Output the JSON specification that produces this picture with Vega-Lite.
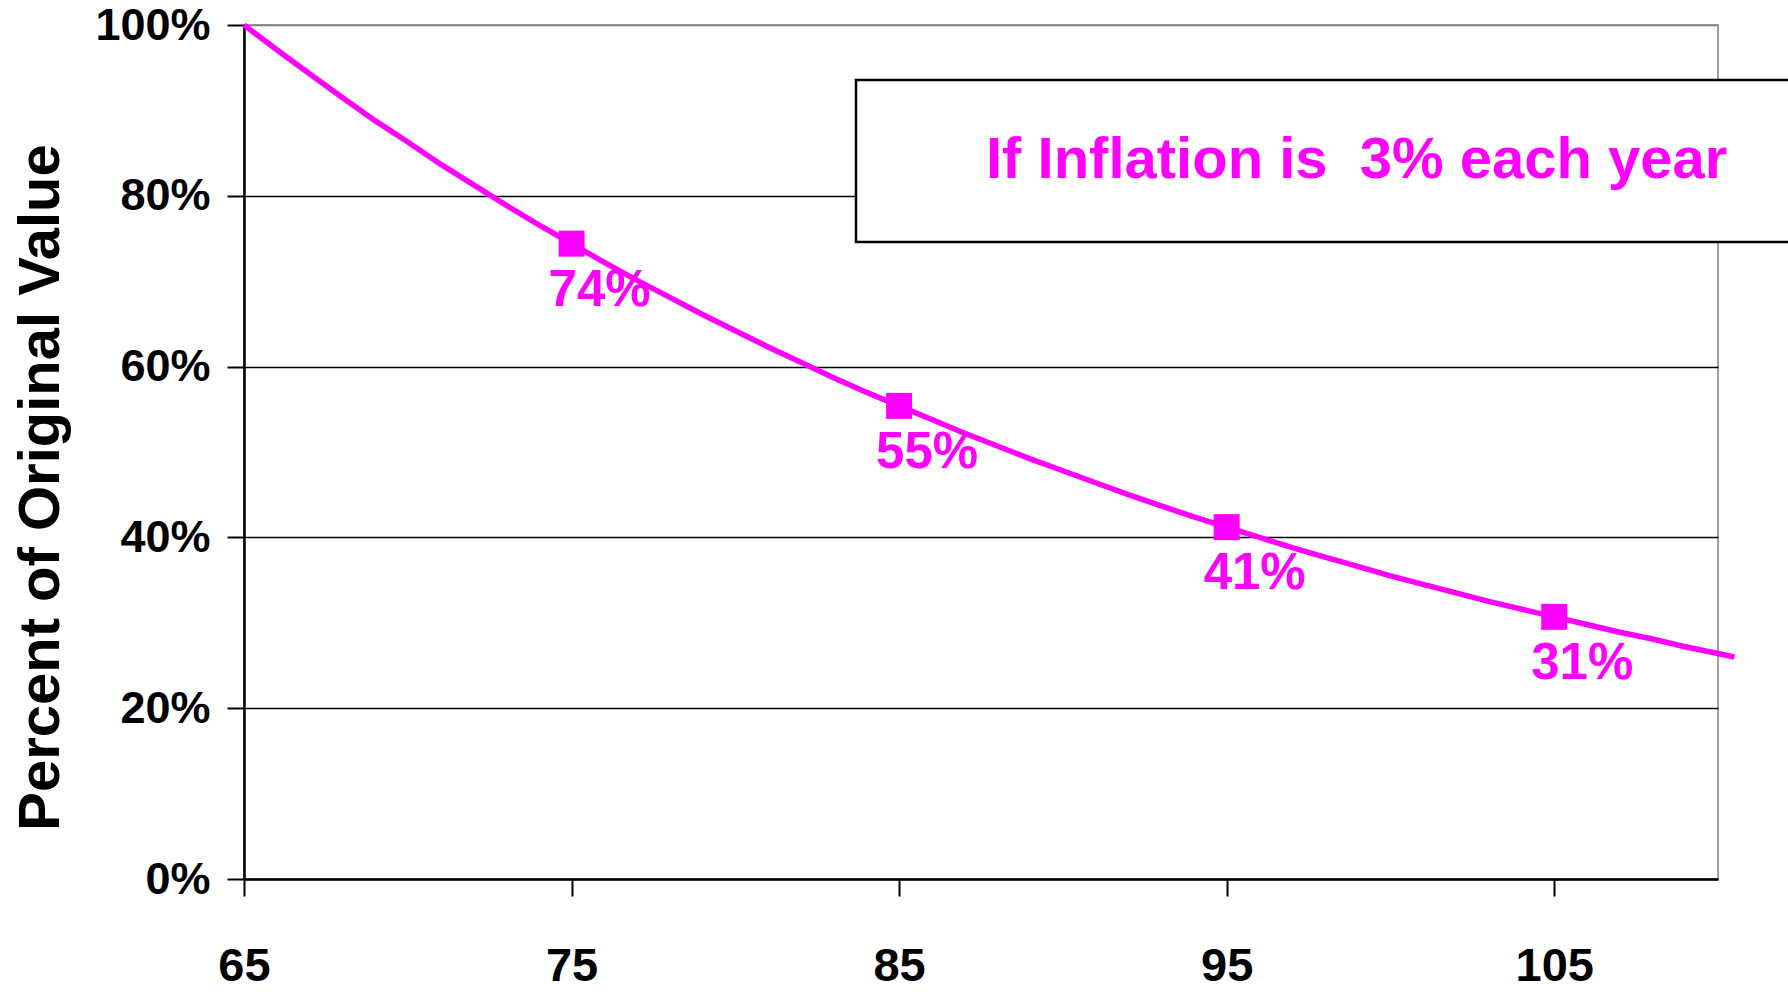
{
  "$schema": "https://vega.github.io/schema/vega-lite/v6.json",
  "width": 1474,
  "height": 854,
  "autosize": {"type": "none"},
  "padding": {"left": 244, "top": 25, "right": 70, "bottom": 113},
  "background": "white",
  "config": {
    "font": "Liberation Sans",
    "view": {"stroke": "#808080", "strokeWidth": 1.5},
    "legend": {"strokeWidth": 2.5}
  },
  "datasets": {
    "curve": [
      {"age": 65, "value": 1.0},
      {"age": 66, "value": 0.971},
      {"age": 67, "value": 0.943},
      {"age": 68, "value": 0.915},
      {"age": 69, "value": 0.888},
      {"age": 70, "value": 0.863},
      {"age": 71, "value": 0.837},
      {"age": 72, "value": 0.813},
      {"age": 73, "value": 0.789},
      {"age": 74, "value": 0.766},
      {"age": 75, "value": 0.744},
      {"age": 76, "value": 0.722},
      {"age": 77, "value": 0.701},
      {"age": 78, "value": 0.681},
      {"age": 79, "value": 0.661},
      {"age": 80, "value": 0.642},
      {"age": 81, "value": 0.623},
      {"age": 82, "value": 0.605},
      {"age": 83, "value": 0.587},
      {"age": 84, "value": 0.57},
      {"age": 85, "value": 0.554},
      {"age": 86, "value": 0.538},
      {"age": 87, "value": 0.522},
      {"age": 88, "value": 0.507},
      {"age": 89, "value": 0.492},
      {"age": 90, "value": 0.478},
      {"age": 91, "value": 0.464},
      {"age": 92, "value": 0.45},
      {"age": 93, "value": 0.437},
      {"age": 94, "value": 0.424},
      {"age": 95, "value": 0.412},
      {"age": 96, "value": 0.4},
      {"age": 97, "value": 0.388},
      {"age": 98, "value": 0.377},
      {"age": 99, "value": 0.366},
      {"age": 100, "value": 0.355},
      {"age": 101, "value": 0.345},
      {"age": 102, "value": 0.335},
      {"age": 103, "value": 0.325},
      {"age": 104, "value": 0.316},
      {"age": 105, "value": 0.307},
      {"age": 106, "value": 0.298},
      {"age": 107, "value": 0.289},
      {"age": 108, "value": 0.281},
      {"age": 109, "value": 0.272},
      {"age": 110, "value": 0.264},
      {"age": 110.5, "value": 0.26}
    ],
    "marks": [
      {"age": 75, "value": 0.744, "label": "74%"},
      {"age": 85, "value": 0.554, "label": "55%"},
      {"age": 95, "value": 0.412, "label": "41%"},
      {"age": 105, "value": 0.307, "label": "31%"}
    ]
  },
  "encoding": {
    "x": {
      "field": "age",
      "type": "quantitative",
      "scale": {"domain": [65, 110], "nice": false, "zero": false},
      "axis": {
        "title": null,
        "values": [65, 75, 85, 95, 105],
        "grid": false,
        "domainColor": "#000000",
        "domainWidth": 2.5,
        "tickColor": "#000000",
        "tickWidth": 2,
        "tickSize": 17,
        "labelPadding": 47,
        "labelFont": "Liberation Sans",
        "labelFontSize": 47,
        "labelFontWeight": "bold",
        "labelColor": "#000000",
        "labelBaseline": "top",
        "labelFlush": false,
        "labelOverlap": false
      }
    },
    "y": {
      "field": "value",
      "type": "quantitative",
      "scale": {"domain": [0, 1], "nice": false},
      "axis": {
        "title": "Percent of Original Value",
        "titleFont": "Liberation Sans",
        "titleFontSize": 58,
        "titleFontWeight": "bold",
        "titleColor": "#000000",
        "titleAngle": 270,
        "titleAlign": "center",
        "titleBaseline": "alphabetic",
        "titleX": -186,
        "titleY": 462,
        "values": [0, 0.2, 0.4, 0.6, 0.8, 1],
        "format": ".0%",
        "grid": true,
        "gridColor": {"condition": {"test": "datum.value === 1", "value": "#808080"}, "value": "#000000"},
        "gridWidth": 1.5,
        "domainColor": "#000000",
        "domainWidth": 2.5,
        "tickColor": "#000000",
        "tickWidth": 2,
        "tickSize": 17,
        "labelPadding": 17,
        "labelFont": "Liberation Sans",
        "labelFontSize": 45,
        "labelFontWeight": "bold",
        "labelColor": "#000000",
        "labelFlush": false,
        "labelOverlap": false
      }
    }
  },
  "layer": [
    {
      "data": {"name": "curve"},
      "mark": {"type": "line", "strokeWidth": 5.5},
      "encoding": {
        "color": {
          "datum": "If Inflation is \u00a03% each year",
          "type": "nominal",
          "scale": {"range": ["#ff00ff"]},
          "legend": {
            "orient": "none",
            "legendX": 612,
            "legendY": 55,
            "title": ".",
            "titleOrient": "right",
            "titleColor": "#ffffff",
            "titleFontSize": 10,
            "titlePadding": 14,
            "strokeColor": "#000000",
            "fillColor": "#ffffff",
            "padding": 52,
            "labelFont": "Liberation Sans",
            "labelFontSize": 58,
            "labelFontWeight": "bold",
            "labelColor": "#ff00ff",
            "labelLimit": 3000,
            "labelOffset": 20,
            "symbolSize": 0,
            "symbolOpacity": 0,
            "symbolStrokeWidth": 0
          }
        }
      }
    },
    {
      "data": {"name": "marks"},
      "mark": {"type": "point", "shape": "square", "filled": true, "size": 676, "opacity": 1},
      "encoding": {
        "color": {"datum": "If Inflation is \u00a03% each year", "type": "nominal"}
      }
    },
    {
      "data": {"name": "marks"},
      "mark": {
        "type": "text",
        "color": "#ff00ff",
        "font": "Liberation Sans",
        "fontSize": 51,
        "fontWeight": "bold",
        "align": "center",
        "baseline": "alphabetic",
        "dx": 28,
        "dy": 62
      },
      "encoding": {
        "text": {"field": "label"}
      }
    }
  ]
}
